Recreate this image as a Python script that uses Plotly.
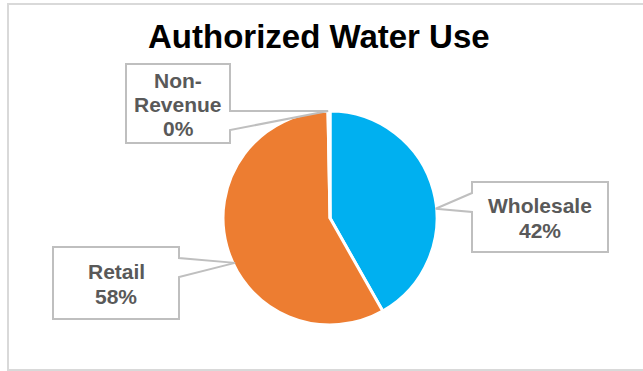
import math
import plotly.graph_objects as go

# ---- data ----
categories = ["Wholesale", "Retail", "Non-Revenue"]
values = [41.8, 57.9, 0.3]
pct_labels = ["42%", "58%", "0%"]
label_lines = [["Wholesale"], ["Retail"], ["Non-", "Revenue"]]
colors = ["#00B0F0", "#ED7D31", "#A5A5A5"]
title = "Authorized Water Use"

W, H = 643, 371

def px(x):
    return x / W

def py(y):
    return 1 - y / H

# pie geometry in pixels
CX, CY, R = 330, 218, 107

fig = go.Figure()
fig.add_trace(go.Pie(
    labels=categories, values=values, sort=False, direction="clockwise",
    rotation=0, textinfo="none", hoverinfo="label+percent",
    marker=dict(colors=colors, line=dict(color="white", width=3)),
    domain=dict(x=[px(CX - R), px(CX + R)], y=[py(CY + R), py(CY - R)]),
    showlegend=False,
))

# label boxes: left, top, right, bottom, pointer side, base y0, base y1, anchor angle
boxes = [
    dict(l=472, t=182, r=608, b=252, side="left", b0=193, b1=212, ang=85, rr=106),
    dict(l=53, t=247, r=179, b=319, side="right", b0=258, b1=277, ang=244.7, rr=105),
    dict(l=126, t=64, r=230, b=143, side="right", b0=111, b1=130, ang=359, rr=107),
]

shapes = [dict(type="rect", xref="paper", yref="paper", x0=px(8), x1=px(660),
               y0=py(370), y1=py(4), line=dict(color="#D9D9D9", width=2),
               layer="below")]
annotations = []
LINE_H = 24.5
for i, bx in enumerate(boxes):
    a = math.radians(bx["ang"])
    tx = CX + bx["rr"] * math.sin(a)
    ty = CY - bx["rr"] * math.cos(a)
    l, t, r, b = bx["l"], bx["t"], bx["r"], bx["b"]
    if bx["side"] == "left":
        pts = [(l, t), (r, t), (r, b), (l, b), (l, bx["b1"]), (tx, ty), (l, bx["b0"])]
    else:
        pts = [(l, t), (r, t), (r, bx["b0"]), (tx, ty), (r, bx["b1"]), (r, b), (l, b)]
    path = "M " + " L ".join(f"{px(x):.5f},{py(y):.5f}" for x, y in pts) + " Z"
    shapes.append(dict(type="path", xref="paper", yref="paper", path=path,
                       fillcolor="white", line=dict(color="#BFBFBF", width=2),
                       layer="above"))
    lines = label_lines[i] + [pct_labels[i]]
    n = len(lines)
    cx = (l + r) / 2
    cy = (t + b) / 2 + 1
    for k, txt in enumerate(lines):
        yy = cy + (k - (n - 1) / 2) * LINE_H
        annotations.append(dict(
            x=px(cx), y=py(yy), xref="paper", yref="paper", text=f"<b>{txt}</b>",
            showarrow=False, xanchor="center", yanchor="middle",
            font=dict(family="Liberation Sans, Arial", size=21, color="#595959"),
        ))

annotations.append(dict(
    x=px(319), y=py(36), xref="paper", yref="paper", text=f"<b>{title}</b>",
    showarrow=False, xanchor="center", yanchor="middle",
    font=dict(family="Liberation Sans, Arial", size=33, color="#000000"),
))

fig.update_layout(
    width=W, height=H, autosize=False,
    margin=dict(l=0, r=0, t=0, b=0),
    paper_bgcolor="white", plot_bgcolor="white",
    shapes=shapes, annotations=annotations,
)
fig.write_html("out.html")
